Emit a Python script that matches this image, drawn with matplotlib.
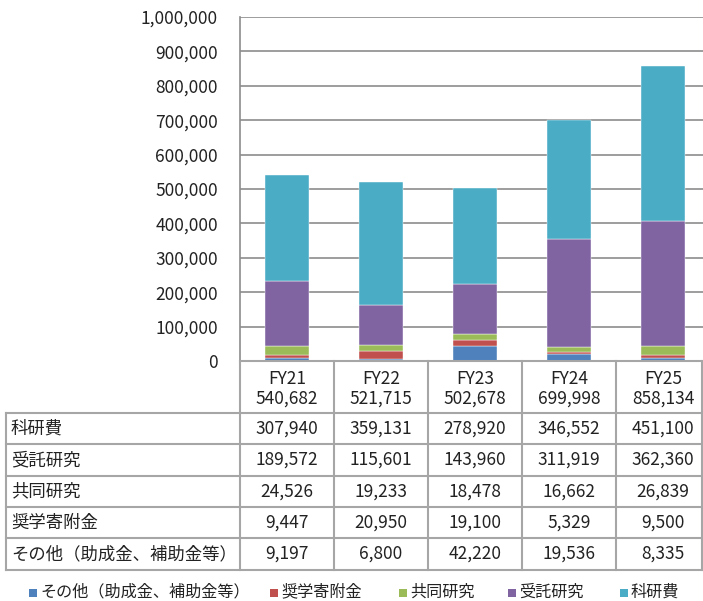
import matplotlib
matplotlib.use("Agg")
import matplotlib.pyplot as plt
from matplotlib.patches import Rectangle
from matplotlib.lines import Line2D
from matplotlib.ticker import FuncFormatter

plt.rcParams['font.family'] = ['Noto Sans CJK JP', 'DejaVu Sans']

# ---- data -------------------------------------------------------------
years = ["FY21", "FY22", "FY23", "FY24", "FY25"]
totals = [540682, 521715, 502678, 699998, 858134]
kakenhi = [307940, 359131, 278920, 346552, 451100]      # 科研費
jutaku = [189572, 115601, 143960, 311919, 362360]       # 受託研究
kyodo = [24526, 19233, 18478, 16662, 26839]             # 共同研究
shogaku = [9447, 20950, 19100, 5329, 9500]              # 奨学寄附金
sonota = [9197, 6800, 42220, 19536, 8335]               # その他（助成金、補助金等）

row_labels = ["科研費", "受託研究", "共同研究", "奨学寄附金", "その他（助成金、補助金等）"]
legend_labels = ["その他（助成金、補助金等）", "奨学寄附金", "共同研究", "受託研究", "科研費"]
yticks = [0, 100000, 200000, 300000, 400000, 500000, 600000, 700000, 800000, 900000, 1000000]

colors = {
    "sonota": "#4F81BD",
    "shogaku": "#C0504D",
    "kyodo": "#9BBB59",
    "jutaku": "#8064A2",
    "kakenhi": "#4BACC6",
}

# ---- figure -----------------------------------------------------------
W, H = 703, 601
fig = plt.figure(figsize=(W / 100, H / 100), dpi=100)


def fx(px):
    return px / W


def fy(py):
    return 1 - py / H


ax_left, ax_right = 240, 710
ax_top, ax_bottom = 17, 361
ax = fig.add_axes([fx(ax_left), fy(ax_bottom), (ax_right - ax_left) / W, (ax_bottom - ax_top) / H])

x = list(range(len(years)))
stack = [(sonota, "sonota"), (shogaku, "shogaku"), (kyodo, "kyodo"), (jutaku, "jutaku"), (kakenhi, "kakenhi")]
bottom = [0] * len(years)
for vals, key in stack:
    ax.bar(x, vals, bottom=bottom, width=0.46, color=colors[key], edgecolor="white",
           linewidth=0.3, zorder=3)
    bottom = [b + v for b, v in zip(bottom, vals)]

ax.set_xlim(-0.5, len(years) - 0.5)
ax.set_ylim(0, 1000000)
ax.set_yticks(yticks)
ax.yaxis.set_major_formatter(FuncFormatter(lambda v, p: f"{int(v):,}"))
ax.tick_params(axis="y", length=0, pad=16, labelsize=12.5, labelcolor="#222222")
ax.set_xticks([])
ax.grid(axis="y", color="#8c8c8c", linewidth=1.2, zorder=0)
for s in ["top", "right", "bottom"]:
    ax.spines[s].set_visible(False)
ax.spines["left"].set_color("#8c8c8c")
ax.spines["left"].set_linewidth(1.2)

# ---- data table below the plot ---------------------------------------
line_kw = dict(color="#a6a6a6", linewidth=1.5, transform=fig.transFigure)
col_edges = [240 + 94 * i for i in range(6)]
row_edges = [413, 444, 476, 507, 538, 570]
table_left = 6

# vertical lines
for cx in col_edges[:-1]:
    fig.add_artist(Line2D([fx(cx), fx(cx)], [fy(361), fy(570)], **line_kw))
fig.add_artist(Line2D([fx(702), fx(702)], [fy(361), fy(570)], **line_kw))
fig.add_artist(Line2D([fx(table_left), fx(table_left)], [fy(413), fy(570)], **line_kw))
fig.add_artist(Line2D([fx(240), fx(703)], [fy(361), fy(361)], **line_kw))
# horizontal lines
for ry in row_edges:
    fig.add_artist(Line2D([fx(table_left), fx(703)], [fy(ry), fy(ry)], **line_kw))

text_kw = dict(fontsize=12.5, color="#222222", va="center")
centers = [(col_edges[i] + col_edges[i + 1]) / 2 for i in range(5)]
for i, cx in enumerate(centers):
    fig.text(fx(cx), fy(379), years[i], ha="center", **text_kw)
    fig.text(fx(cx), fy(399), f"{totals[i]:,}", ha="center", **text_kw)

rows = [kakenhi, jutaku, kyodo, shogaku, sonota]
for r, (label, vals) in enumerate(zip(row_labels, rows)):
    cy = (row_edges[r] + row_edges[r + 1]) / 2
    fig.text(fx(11), fy(cy), label, ha="left", **text_kw)
    for i, cx in enumerate(centers):
        fig.text(fx(cx), fy(cy), f"{vals[i]:,}", ha="center", **text_kw)

# ---- legend -----------------------------------------------------------
legend_keys = ["sonota", "shogaku", "kyodo", "jutaku", "kakenhi"]
legend_x = [29, 270, 399, 508, 620]
legend_y = 593
sq = 8
for key, label, lx in zip(legend_keys, legend_labels, legend_x):
    fig.add_artist(Rectangle((fx(lx), fy(legend_y + sq / 2)), sq / W, sq / H,
                             facecolor=colors[key], edgecolor="none",
                             transform=fig.transFigure))
    fig.text(fx(lx + sq + 3), fy(legend_y - 1), label, ha="left", va="center",
             fontsize=11.6, color="#222222")

fig.savefig("out.png", dpi=100, facecolor="white")
